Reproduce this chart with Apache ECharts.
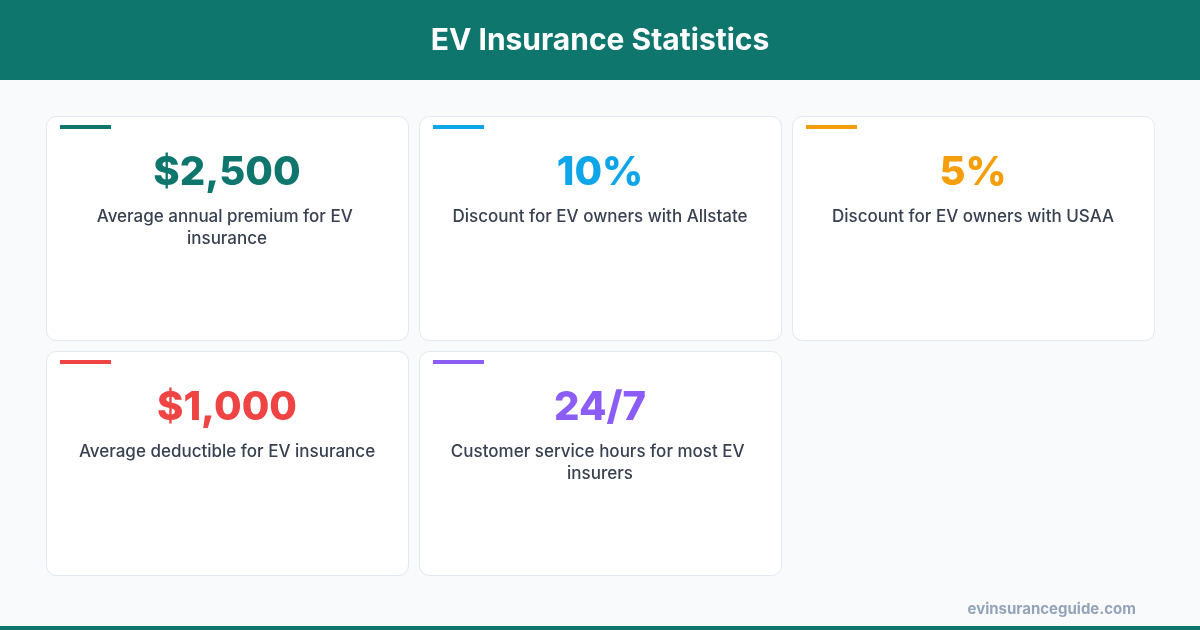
<!DOCTYPE html>
<html><head><meta charset="utf-8">
<script src="https://cdn.jsdelivr.net/npm/echarts@6/dist/echarts.min.js"></script>
<style>html,body{margin:0;padding:0;background:#f8fafc}#c{width:1200px;height:630px}</style>
</head><body><div id="c"></div>
<script>
const title = 'EV Insurance Statistics';
const statValues = ['$2,500', '10%', '5%', '$1,000', '24/7'];
const statLabels = ['Average annual premium for EV insurance', 'Discount for EV owners with Allstate', 'Discount for EV owners with USAA', 'Average deductible for EV insurance', 'Customer service hours for most EV insurers'];
const statColors = ['#0f766e', '#0ea5e9', '#f59e0b', '#ef4444', '#8b5cf6'];
const source = 'evinsuranceguide.com';

const chart = echarts.init(document.getElementById('c'));
const els = [
  {type:'rect', shape:{x:0,y:0,width:1200,height:80}, style:{fill:'#0f766e'}},
  {type:'text', x:600, y:41, style:{text:title, fill:'#fff', font:'bold 30px Inter, "Noto Sans", sans-serif', align:'center', verticalAlign:'middle'}},
  {type:'rect', shape:{x:0,y:626,width:1200,height:4}, style:{fill:'#0f766e'}},
  {type:'text', x:1136, y:609, style:{text:source, fill:'#94a3b8', font:'bold 15px Inter, "Noto Sans", sans-serif', align:'right', verticalAlign:'middle'}}
];
const cw = 362, ch = 224, xs = [46, 419, 792], ys = [116, 351];
statValues.forEach((v, i) => {
  const x = xs[i % 3], y = ys[Math.floor(i / 3)];
  els.push({type:'rect', shape:{x:x+0.5,y:y+0.5,width:cw,height:ch,r:10}, style:{fill:'#fff', stroke:'#e2e8f0', lineWidth:1}});
  els.push({type:'rect', shape:{x:x+14,y:y+9,width:51,height:4}, style:{fill:statColors[i]}});
  els.push({type:'text', x:x+cw/2, y:y+57, style:{text:v, fill:statColors[i], font:'800 40px Inter, "Noto Sans", sans-serif', align:'center', verticalAlign:'middle'}});
  els.push({type:'text', x:x+cw/2, y:y+90, style:{text:statLabels[i], fill:'#374151', font:'500 17px Inter, "Noto Sans", sans-serif', align:'center', verticalAlign:'top', width:310, overflow:'break', lineHeight:22}});
});
chart.setOption({backgroundColor:'#f8fafc', graphic:{elements:els}});
</script></body></html>
